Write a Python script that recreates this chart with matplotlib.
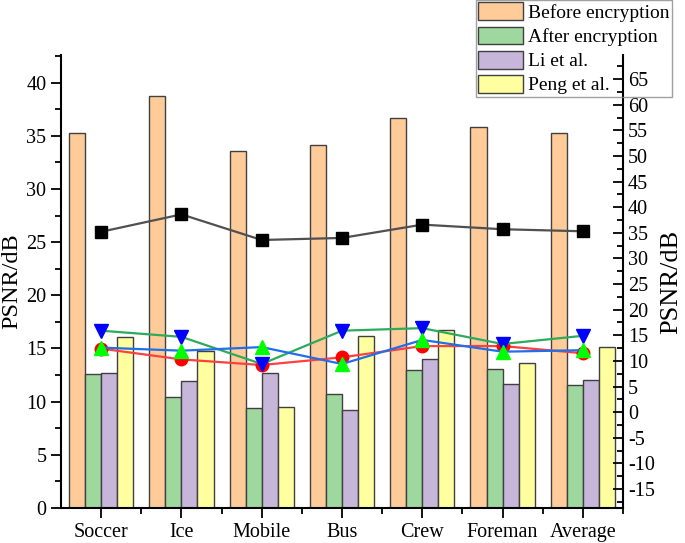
import numpy as np
import matplotlib
matplotlib.use("Agg")
import matplotlib.pyplot as plt
from matplotlib.ticker import MultipleLocator

plt.rcParams['font.family'] = ['Liberation Serif', 'DejaVu Serif']
plt.rcParams['axes.unicode_minus'] = False

videos = ['Soccer', 'Ice', 'Mobile', 'Bus', 'Crew', 'Foreman', 'Average']
before_enc = [35.3, 38.7, 33.6, 34.1, 36.7, 35.8, 35.3]
after_enc = [12.6, 10.4, 9.4, 10.7, 13.0, 13.1, 11.6]
li_et_al = [12.7, 11.95, 12.7, 9.2, 14.0, 11.7, 12.05]
peng_et_al = [16.1, 14.8, 9.5, 16.2, 16.7, 13.6, 15.15]

# same results, drawn as lines on the right-hand axis
line_before = [35.2, 38.6, 33.6, 34.0, 36.6, 35.7, 35.3]
line_after = [12.4, 10.3, 9.2, 10.7, 12.9, 12.9, 11.5]
line_peng = [15.9, 14.7, 9.4, 15.9, 16.4, 13.3, 14.9]
line_li = [12.6, 12.0, 12.7, 9.4, 14.1, 11.8, 12.1]

bar_cols = ['#FFCC99', '#9ED89E', '#C6B6DA', '#FFFFA0']
bar_labels = ['Before encryption', 'After encryption', 'Li et al.', 'Peng et al.']

fig = plt.figure(figsize=(6.85, 5.43), dpi=100)
ax = fig.add_axes([61/685, 35/543, 562/685, 453/543])
ax2 = ax.twinx()

x = np.arange(len(videos))
w = 0.2
handles = []
for k, vals in enumerate([before_enc, after_enc, li_et_al, peng_et_al]):
    b = ax.bar(x + (k - 1.5) * w, vals, w, color=bar_cols[k], edgecolor='#404040',
               linewidth=1.0, label=bar_labels[k])
    handles.append(b)

ax2.plot(x, line_before, '-s', color='#505050', mfc='black', mec='black', ms=9, lw=1.6)
ax2.plot(x, line_after, '-o', color='#FF4040', mfc='red', mec='red', ms=9, lw=1.6)
ax2.plot(x, line_peng, '-v', color='#2EAA5C', mfc='blue', mec='blue', ms=10, lw=1.6)
ax2.plot(x, line_li, '-^', color='#1F6FE8', mfc='#00FF00', mec='#00FF00', ms=10, lw=1.6)

ax.set_xlim(-0.5, 6.5)
ax.set_ylim(0, 42.6)
ax2.set_ylim(-18.7, 69.7)

ax.set_xticks(x)
ax.set_xticklabels(videos)
ax.set_xticks(x + 0.5, minor=True)
ax.yaxis.set_major_locator(MultipleLocator(5))
ax.yaxis.set_minor_locator(MultipleLocator(2.5))
ax2.set_yticks(np.arange(-15, 70, 5))
ax2.yaxis.set_minor_locator(MultipleLocator(2.5))

ax.tick_params(axis='both', which='major', direction='out', length=7, width=1.3, labelsize=14.5)
ax.tick_params(axis='both', which='minor', direction='out', length=4, width=1.3)
ax2.tick_params(axis='y', which='major', direction='in', length=7, width=1.3, labelsize=14.5)
ax2.tick_params(axis='y', which='minor', direction='in', length=4, width=1.3)

for a in (ax, ax2):
    a.spines['top'].set_visible(False)
    for s in a.spines.values():
        s.set_linewidth(1.5)
ax.spines['right'].set_visible(False)
ax2.spines['left'].set_visible(False)
ax2.spines['bottom'].set_visible(False)

ax.set_ylabel('PSNR/dB', fontsize=17.5, labelpad=3)
ax2.set_ylabel('PSNR/dB', fontsize=19, labelpad=4)

# legend box is see-through: the right axis shows under it
leg = fig.legend(handles, bar_labels, loc='upper right', bbox_to_anchor=(672/685, 1.0),
                 fontsize=14, frameon=True, fancybox=False,
                 edgecolor='#888888', facecolor='none', borderaxespad=0, borderpad=0.12,
                 handlelength=2.3, handleheight=1.03, labelspacing=0.24, handletextpad=0.26)
leg.get_frame().set_linewidth(1.0)

fig.savefig('out.png', dpi=100)
